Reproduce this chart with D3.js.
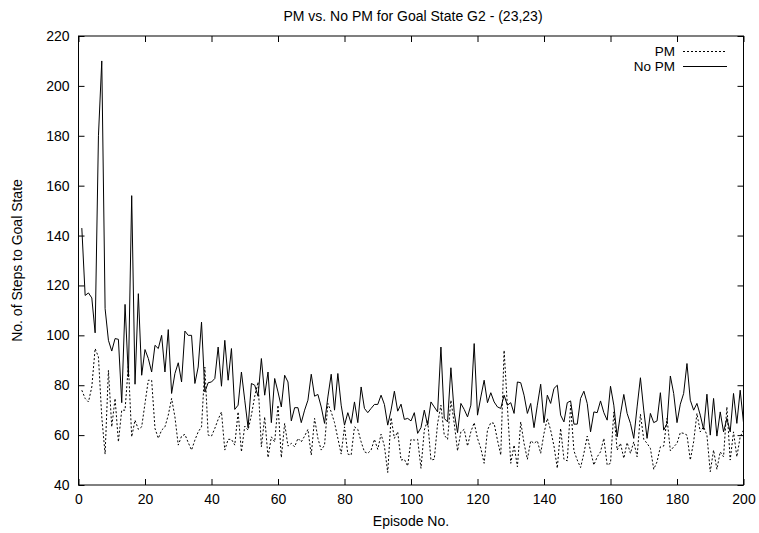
<!DOCTYPE html>
<html><head><meta charset="utf-8">
<script src="https://cdn.jsdelivr.net/npm/d3@7"></script>
<style>body{margin:0;background:#fff}svg{display:block}text{font-family:"Liberation Sans",Arial,sans-serif;font-size:14px;fill:#000}</style>
</head><body>
<script>
const title = "PM vs. No PM for Goal State G2 - (23,23)";
const xLabel = "Episode No.";
const yLabel = "No. of Steps to Goal State";
const xTicks = [0,20,40,60,80,100,120,140,160,180,200];
const yTicks = [40,60,80,100,120,140,160,180,200,220];
const seriesNames = ["PM","No PM"];
const pm = [
78,74.7,73.3,79.3,94.7,91.3,67.3,52.4,86,63.3,
74.7,57.3,70,70,88,59.3,66,62.3,63.3,72.7,
82,82,62.7,58.7,62,63.3,68,74.7,67.3,56,
59.6,60.3,57,54,58,61.3,63.3,87.3,60,59.6,
62.7,66.3,69.3,54,58.3,58.3,56,69.3,53.3,63.6,
62,68,75.6,81.3,55.3,67.3,51,59.3,57.3,72,
51,64.7,55.6,56.7,55.3,58.7,57.3,59.6,62.3,52,
66.7,58.7,54,56,72.7,69.3,65,58.7,52.4,63.3,
52.4,52,63.3,62.3,57.3,53.3,52.7,54,58.3,54.3,
60.4,55.6,45,67,58.7,61.3,50,50.3,47.6,58.3,
58,58.3,46.7,62,66,50,50.3,64.7,72,60,
58.3,74,64.7,53.7,61.3,62.3,55.6,61.3,65,58.7,
54.7,48.7,62,65,64.7,58,52,94,71.3,48.7,
56,47.3,65.3,56.7,50.3,57.7,56.7,57.7,52.7,60.7,
66.7,62,55.6,46.7,62.7,50.3,49.7,72,53.7,50,
47,52.7,59.6,53.7,48,51.3,53.3,58.7,48,48.7,
69.3,54,56.7,50.7,57,52.7,57.3,51.3,68.4,58.3,
56.7,54.7,46.3,49.3,55.3,55.6,66.7,53.7,55.3,56.7,
61,60.7,60,50,57.3,68.7,61.3,63.3,60,45.3,
54,46.3,53.3,51.3,71.3,50,61.3,51.3,59.3,62];
const noPm = [
143,116,117,115,101,180,210,110.7,98,93.7,
98.7,98.4,73,112.4,83.3,156,80.4,116.7,84,94.3,
90.7,85.3,96,94.7,100,85.3,102.3,76.7,84.7,89,
81.3,101.7,100,100,80.7,87.3,105.3,77.3,81,81.3,
82.7,95.3,79.6,98,82,94.7,70.3,72,85.3,74,
63,80.7,80,75.6,90.7,76,85.3,65,82.7,77.3,
71.3,84,81.3,65.7,71,71,65,70,74,84.4,
75.6,76.3,71.3,64.7,75.3,84.4,70,84.7,72,64,
69,64.7,73.3,65,79.3,70.7,69,70.7,72.3,72.3,
76,72.3,64,70,77.6,69.6,72.4,66.3,66.7,65.7,
69,60.7,63,70,64,73.3,71.3,69.3,95.3,66.7,
65.3,87,69,61,72.7,70.3,67.3,72,96.7,68,
75.3,82,73,77,73.3,71.3,70.7,76,72,73,
68.7,81.3,81,76,68.7,72.7,63,72,80.4,65,
76,72.7,78.7,80,68,65.3,73,73.7,64.4,64.4,
74.7,77.6,72.7,61.3,69.3,69,73.7,69,66,79.6,
72,59.3,68.4,76.3,68.7,64.7,58.7,71.3,83,70,
58.7,68.7,65,65.7,77,62,64.7,83.7,76.7,65,
72.4,76.7,88.7,74,70,72.7,68,62.3,76.4,60,
74.7,59.6,69.3,61.3,66.7,61.3,76.7,64.7,78,65];

const W=759,H=533, L=78.5, R=743.5, T=36, B=485;
const svg=d3.select("body").append("svg").attr("width",W).attr("height",H);
const x=d3.scaleLinear().domain([0,200]).range([L,R]);
const y=d3.scaleLinear().domain([40,220]).range([B,T]);
const ff="Liberation Sans, Arial, sans-serif";

const tl=6;
svg.append("g").attr("transform",`translate(0,${B})`)
  .call(d3.axisBottom(x).tickValues(xTicks).tickSize(-tl).tickPadding(9).tickFormat(d3.format("d")))
  .call(g=>{g.select(".domain").remove();g.selectAll("text").attr("font-size",14).style("font-family",ff);});
svg.append("g").attr("transform",`translate(0,${T})`)
  .call(d3.axisTop(x).tickValues(xTicks).tickSize(-tl).tickFormat(""))
  .call(g=>g.select(".domain").remove());
svg.append("g").attr("transform",`translate(${L},0)`)
  .call(d3.axisLeft(y).tickValues(yTicks).tickSize(-tl).tickPadding(9).tickFormat(d3.format("d")))
  .call(g=>{g.select(".domain").remove();g.selectAll("text").attr("font-size",14).style("font-family",ff);});
svg.append("g").attr("transform",`translate(${R},0)`)
  .call(d3.axisRight(y).tickValues(yTicks).tickSize(-tl).tickFormat(""))
  .call(g=>g.select(".domain").remove());
svg.selectAll(".tick line").attr("stroke","#000");

svg.append("rect").attr("x",L).attr("y",T).attr("width",R-L).attr("height",B-T)
  .attr("fill","none").attr("stroke","#000").attr("stroke-width",1);

const line=d3.line().x((d,i)=>x(i+1)).y(d=>y(d));
svg.append("path").datum(pm).attr("d",line).attr("fill","none").attr("stroke","#000")
  .attr("stroke-width",1).attr("stroke-dasharray","2,2");
svg.append("path").datum(noPm).attr("d",line).attr("fill","none").attr("stroke","#000")
  .attr("stroke-width",1);

const lg=[{n:seriesNames[0],dash:"2,2"},{n:seriesNames[1],dash:null}];
lg.forEach((d,i)=>{
  const yy=51.5+i*15;
  svg.append("text").attr("x",675).attr("y",yy).attr("dy","0.36em").attr("text-anchor","end")
    .style("font-size","13.5px").text(d.n);
  svg.append("line").attr("x1",683).attr("x2",727).attr("y1",yy).attr("y2",yy)
    .attr("stroke","#000").attr("stroke-width",1).attr("stroke-dasharray",d.dash);
});

svg.append("text").attr("x",413).attr("y",20.5).attr("text-anchor","middle").text(title);
svg.append("text").attr("x",(L+R)/2).attr("y",526).attr("text-anchor","middle").text(xLabel);
svg.append("text").attr("transform",`translate(22,${(T+B)/2}) rotate(-90)`).attr("text-anchor","middle").text(yLabel);
</script>
</body></html>
